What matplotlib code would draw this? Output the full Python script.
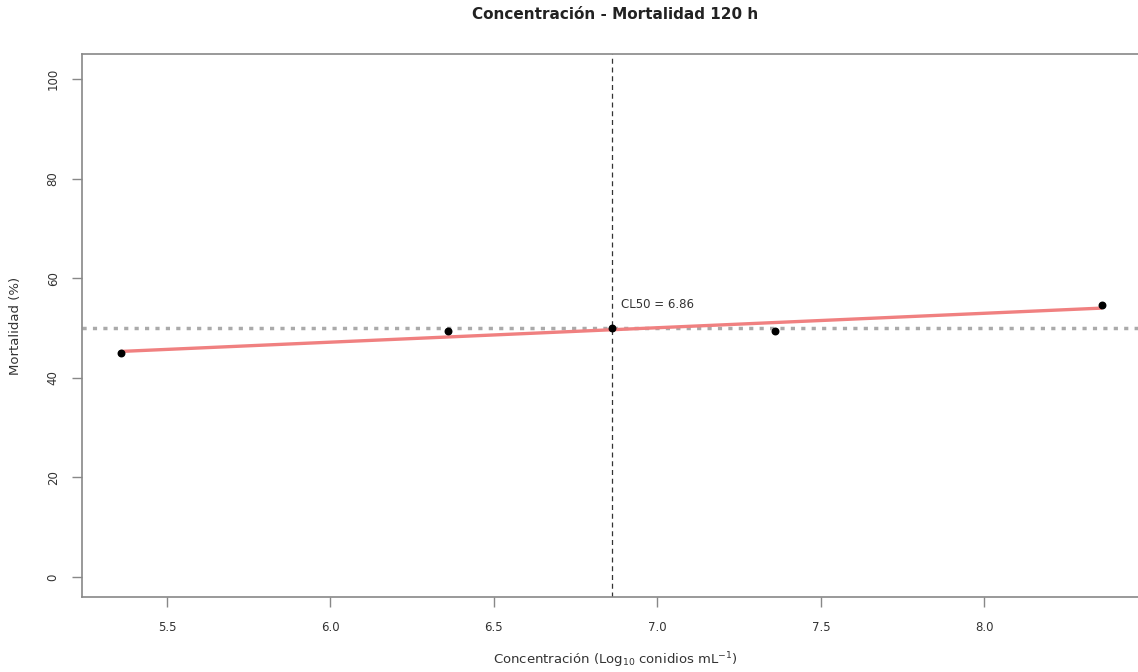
import numpy as np
import matplotlib
matplotlib.use("Agg")
import matplotlib.pyplot as plt

plt.rcParams['font.family'] = ['DejaVu Sans']

# datos observados
conc = [5.36, 6.36, 7.36, 8.36]
mort = [45.0, 49.4, 49.4, 54.6]

# recta ajustada (extremos)
fit_x = [5.36, 8.36]
fit_y = [45.3, 54.0]

cl50 = 6.86
mort50 = 50

xticks = [5.5, 6.0, 6.5, 7.0, 7.5, 8.0]
yticks = [0, 20, 40, 60, 80, 100]

fig = plt.figure(figsize=(11.38, 6.72), dpi=100)
ax = fig.add_axes([0.072, 0.1116, 0.9367, 0.808])

ax.plot(fit_x, fit_y, color='#f08080', lw=2.4, solid_capstyle='butt', zorder=2)
ax.axhline(mort50, color='#aaaaaa', lw=2.5, ls=(0, (1.2, 1.8)), zorder=1)
ax.axvline(cl50, color='#333333', lw=0.9, ls=(0, (4, 3)), zorder=1)
ax.scatter(conc, mort, s=22, color='black', zorder=3)
ax.scatter([cl50], [mort50], s=22, color='black', zorder=3)
ax.text(cl50 + 0.03, mort50 + 4.0, 'CL50 = %.2f' % cl50, fontsize=8.5, color='#333333')

ax.set_xlim(5.24, 8.50)
ax.set_ylim(-4, 105)
ax.set_xticks(xticks)
ax.set_xticklabels(['%.1f' % t for t in xticks])
ax.set_yticks(yticks)
ax.set_yticklabels([str(t) for t in yticks], rotation=90, va='center')

for s in ax.spines.values():
    s.set_color('#888888')
    s.set_linewidth(1.2)
ax.tick_params(colors='#888888', labelcolor='#333333', labelsize=8.5, length=7, width=1, pad=10)
ax.tick_params(axis='y', pad=9)

ax.set_xlabel(r'Concentración (Log$_{10}$ conidios mL$^{-1}$)', fontsize=9.5, color='#333333', labelpad=12)
ax.set_ylabel('Mortalidad (%)', fontsize=9.5, color='#333333', labelpad=18)
# titulo centrado sobre la region del grafico, como en R
fig.text(0.072 + 0.9367 / 2, 0.99, 'Concentración - Mortalidad 120 h', ha='center', va='top',
         fontsize=11, fontweight='bold', color='#222222')

fig.savefig('out.png', dpi=100)
